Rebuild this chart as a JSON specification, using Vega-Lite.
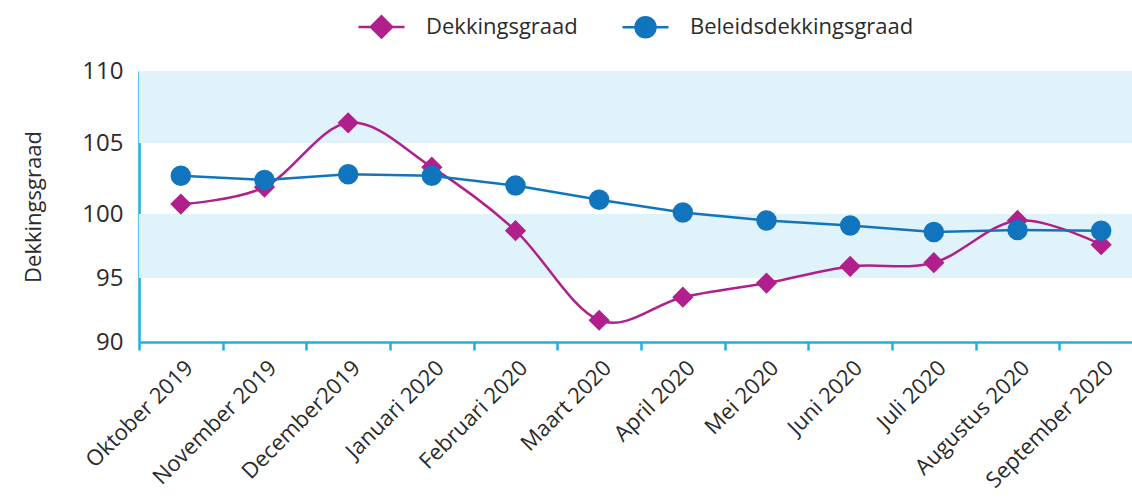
{
  "$schema": "https://vega.github.io/schema/vega-lite/v6.json",
  "width": 993,
  "height": 271,
  "autosize": {"type": "none"},
  "padding": {"left": 139, "top": 71, "right": 0, "bottom": 162},
  "background": "white",
  "config": {
    "view": {"stroke": null},
    "font": "Open Sans",
    "axis": {"grid": false, "labelColor": "#2b2b2b", "titleColor": "#2b2b2b", "domainColor": "#1AB1E8", "domainWidth": 2.5, "tickColor": "#1AB1E8", "tickWidth": 2.5, "labelFont": "Open Sans", "titleFont": "Open Sans"}
  },
  "datasets": {
    "series": [
      {"month": "Oktober 2019", "series": "Dekkingsgraad", "value": 100.7},
      {"month": "November 2019", "series": "Dekkingsgraad", "value": 101.9},
      {"month": "December2019", "series": "Dekkingsgraad", "value": 106.4},
      {"month": "Januari 2020", "series": "Dekkingsgraad", "value": 103.3},
      {"month": "Februari 2020", "series": "Dekkingsgraad", "value": 98.7},
      {"month": "Maart 2020", "series": "Dekkingsgraad", "value": 91.7},
      {"month": "April 2020", "series": "Dekkingsgraad", "value": 93.5},
      {"month": "Mei 2020", "series": "Dekkingsgraad", "value": 94.6},
      {"month": "Juni 2020", "series": "Dekkingsgraad", "value": 95.9},
      {"month": "Juli 2020", "series": "Dekkingsgraad", "value": 96.2},
      {"month": "Augustus 2020", "series": "Dekkingsgraad", "value": 99.5},
      {"month": "September 2020", "series": "Dekkingsgraad", "value": 97.6},
      {"month": "Oktober 2019", "series": "Beleidsdekkingsgraad", "value": 102.7},
      {"month": "November 2019", "series": "Beleidsdekkingsgraad", "value": 102.4},
      {"month": "December2019", "series": "Beleidsdekkingsgraad", "value": 102.8},
      {"month": "Januari 2020", "series": "Beleidsdekkingsgraad", "value": 102.7},
      {"month": "Februari 2020", "series": "Beleidsdekkingsgraad", "value": 102.0},
      {"month": "Maart 2020", "series": "Beleidsdekkingsgraad", "value": 101.0},
      {"month": "April 2020", "series": "Beleidsdekkingsgraad", "value": 100.1},
      {"month": "Mei 2020", "series": "Beleidsdekkingsgraad", "value": 99.5},
      {"month": "Juni 2020", "series": "Beleidsdekkingsgraad", "value": 99.1},
      {"month": "Juli 2020", "series": "Beleidsdekkingsgraad", "value": 98.6},
      {"month": "Augustus 2020", "series": "Beleidsdekkingsgraad", "value": 98.75},
      {"month": "September 2020", "series": "Beleidsdekkingsgraad", "value": 98.7}
    ],
    "bands": [
      {"lo": 95, "hi": 100},
      {"lo": 105, "hi": 110}
    ]
  },
  "layer": [
    {
      "data": {"name": "bands"},
      "mark": {"type": "rect", "color": "#E0F3FB"},
      "encoding": {
        "y": {"field": "lo", "type": "quantitative",
          "scale": {"domain": [90, 95, 100, 105, 110], "range": [271, 207, 143, 72, 0], "nice": false, "zero": false},
          "axis": {"values": [90, 95, 100, 105, 110], "ticks": false, "labelFontSize": 24, "labelPadding": 16, "title": "Dekkingsgraad", "titleFontSize": 22, "titleFontWeight": "normal", "titlePadding": 36}},
        "y2": {"field": "hi"}
      }
    },
    {
      "data": {"name": "series"},
      "transform": [{"filter": "datum.series === 'Dekkingsgraad'"}],
      "mark": {"type": "line", "color": "#B01F8C", "strokeWidth": 2.5, "interpolate": "cardinal"},
      "encoding": {
        "x": {"field": "month", "type": "nominal", "sort": null,
          "scale": {"type": "band", "paddingInner": 0, "paddingOuter": 0, "range": [0, 1004]},
          "axis": {"title": null, "tickBand": "extent", "tickSize": 8, "labelAngle": -45, "labelFontSize": 22, "labelAlign": "right", "labelBaseline": "middle", "labelPadding": 14, "labelOffset": 8}},
        "y": {"field": "value", "type": "quantitative"}
      }
    },
    {
      "data": {"name": "series"},
      "transform": [{"filter": "datum.series === 'Beleidsdekkingsgraad'"}],
      "mark": {"type": "line", "color": "#1075BD", "strokeWidth": 2.5},
      "encoding": {
        "x": {"field": "month", "type": "nominal", "sort": null},
        "y": {"field": "value", "type": "quantitative"}
      }
    },
    {
      "data": {"name": "series"},
      "transform": [{"filter": "datum.series === 'Dekkingsgraad'"}],
      "mark": {"type": "point", "shape": "diamond", "filled": true, "opacity": 1, "size": 450, "color": "#B01F8C"},
      "encoding": {
        "x": {"field": "month", "type": "nominal", "sort": null},
        "y": {"field": "value", "type": "quantitative"}
      }
    },
    {
      "data": {"name": "series"},
      "transform": [{"filter": "datum.series === 'Beleidsdekkingsgraad'"}],
      "mark": {"type": "point", "shape": "circle", "filled": true, "opacity": 1, "size": 420, "color": "#1075BD"},
      "encoding": {
        "x": {"field": "month", "type": "nominal", "sort": null},
        "y": {"field": "value", "type": "quantitative"}
      }
    },
    {
      "data": {"name": "series"},
      "transform": [{"filter": "false"}],
      "mark": {"type": "point", "filled": true, "opacity": 1, "strokeWidth": 2.5},
      "encoding": {
        "color": {"field": "series", "type": "nominal",
          "scale": {"domain": ["Dekkingsgraad", "Beleidsdekkingsgraad"], "range": ["#B01F8C", "#1075BD"]},
          "legend": {"orient": "none", "legendX": 218, "legendY": -69, "direction": "horizontal", "title": null, "padding": 0,
            "symbolSize": 2116, "symbolStrokeWidth": 2.5, "labelFontSize": 22, "labelFont": "Open Sans", "labelColor": "#2b2b2b", "labelOffset": 20, "columnPadding": 39, "labelLimit": 0}},
        "stroke": {"field": "series", "type": "nominal",
          "scale": {"domain": ["Dekkingsgraad", "Beleidsdekkingsgraad"], "range": ["#B01F8C", "#1075BD"]}},
        "shape": {"field": "series", "type": "nominal",
          "scale": {"domain": ["Dekkingsgraad", "Beleidsdekkingsgraad"], "range": ["M-1,0H1M-0.46,0L0,-0.46L0.46,0L0,0.46Z", "M-1,0H1M-0.435,0A0.435,0.435,0,1,1,0.435,0A0.435,0.435,0,1,1,-0.435,0Z"]}}
      }
    }
  ]
}
